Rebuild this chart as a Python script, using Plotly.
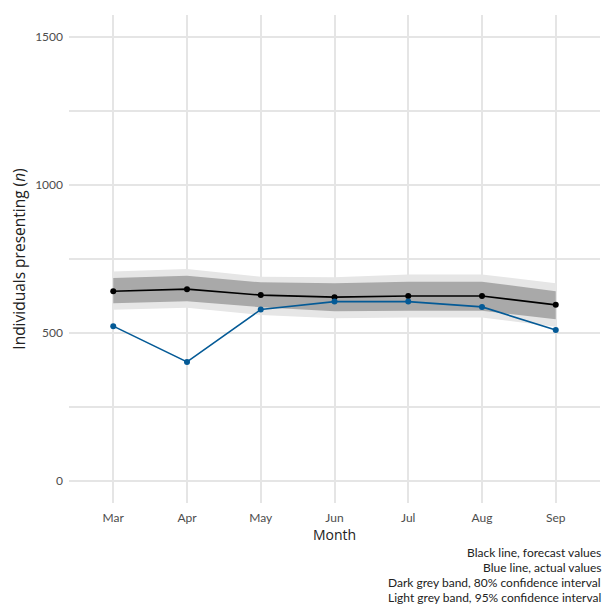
import plotly.graph_objects as go

months = ["Mar", "Apr", "May", "Jun", "Jul", "Aug", "Sep"]
forecast = [641, 648, 628, 621, 625, 625, 595]
actual = [523, 402, 579, 606, 606, 588, 510]
lo80 = [600, 607, 587, 573, 575, 575, 546]
hi80 = [686, 693, 671, 668, 673, 673, 641]
lo95 = [578, 585, 561, 550, 552, 552, 521]
hi95 = [708, 716, 690, 688, 698, 698, 668]
y_ticks = [0, 500, 1000, 1500]
caption = ["Black line, forecast values", "Blue line, actual values",
           "Dark grey band, 80% confidence interval",
           "Light grey band, 95% confidence interval"]

FONT = "Lato"
fig = go.Figure()
fig.add_trace(go.Scatter(x=months, y=hi95, mode="lines", line=dict(width=0),
                         hoverinfo="skip", showlegend=False))
fig.add_trace(go.Scatter(x=months, y=lo95, mode="lines", line=dict(width=0),
                         fill="tonexty", fillcolor="#e6e6e6", hoverinfo="skip", showlegend=False))
fig.add_trace(go.Scatter(x=months, y=hi80, mode="lines", line=dict(width=0),
                         hoverinfo="skip", showlegend=False))
fig.add_trace(go.Scatter(x=months, y=lo80, mode="lines", line=dict(width=0),
                         fill="tonexty", fillcolor="#a9a9a9", hoverinfo="skip", showlegend=False))
fig.add_trace(go.Scatter(x=months, y=forecast, mode="lines+markers",
                         line=dict(color="black", width=1.6),
                         marker=dict(color="black", size=6), showlegend=False))
fig.add_trace(go.Scatter(x=months, y=actual, mode="lines+markers",
                         line=dict(color="#045a96", width=1.6),
                         marker=dict(color="#045a96", size=6), showlegend=False))

fig.update_layout(
    width=603, height=605,
    margin=dict(l=69, r=3, t=15, b=102, autoexpand=False),
    plot_bgcolor="white", paper_bgcolor="white",
    font=dict(family=FONT, color="#4d4d4d", size=12),
    xaxis=dict(type="category", range=[-0.6, 6.6], showgrid=True, gridcolor="#e5e5e5",
               gridwidth=2, zeroline=False, showline=False, ticks="", ticklabelstandoff=6,
               title=dict(text="Month", font=dict(size=14, color="#222222", family="Open Sans"),
                          standoff=0),
               tickfont=dict(size=12, color="#4d4d4d")),
    yaxis=dict(range=[-75, 1575], tickvals=y_ticks, showgrid=True, gridcolor="#e5e5e5",
               gridwidth=2, zeroline=False, showline=False, ticks="", ticklabelstandoff=5,
               minor=dict(dtick=250, tick0=0, showgrid=True, gridcolor="#e5e5e5", gridwidth=2),
               title=dict(text="Individuals presenting (<i>n</i>)",
                          font=dict(size=15.5, color="#222222", family="Open Sans"),
                          standoff=5),
               tickfont=dict(size=12, color="#4d4d4d")),
)

for i, line in enumerate(caption):
    fig.add_annotation(text=line, xref="paper", yref="paper", x=1, y=0,
                       xanchor="right", yanchor="middle", showarrow=False,
                       xshift=3, yshift=-(552 - 503) - 15 * i,
                       font=dict(size=12, color="#222222", family=FONT))

fig.write_html("out.html", config={"displayModeBar": False},
               post_script="document.body.style.margin='0';document.body.style.overflow='hidden';")
